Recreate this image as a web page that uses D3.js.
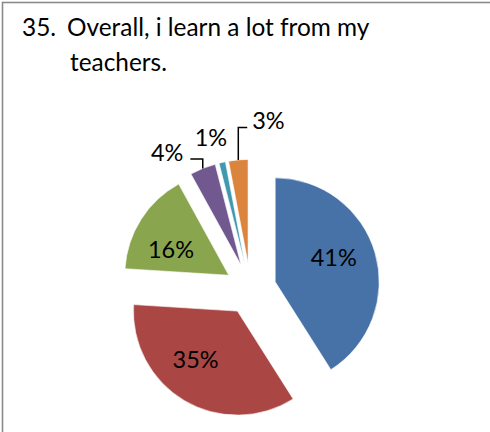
<!DOCTYPE html>
<html><head><meta charset="utf-8">
<script src="https://cdn.jsdelivr.net/npm/d3@7"></script>
<style>html,body{margin:0;padding:0;background:#fff}</style>
</head><body>
<svg id="chart" width="490" height="432"></svg>
<script>
// ---- data ----
const categories = ["Strongly agree", "Agree", "Neutral", "Disagree", "Strongly disagree", "No answer"];
const values = [41, 35, 16, 4, 1, 3];
const valueLabels = ["41%", "35%", "16%", "4%", "1%", "3%"];
const colors = ["#4672A7", "#AA4644", "#89A54E", "#71588F", "#4198AF", "#DB843D"];
const titleNumber = "35.";
const titleLines = ["Overall, i learn a lot from my", "teachers."];

// ---- layout ----
const svg = d3.select("#chart");
const font = "Lato, 'Open Sans', sans-serif";
const cx = 250.5, cy = 289, R = 104, explode = 25.7;

svg.append("rect").attr("x", 0).attr("y", 0).attr("width", 490).attr("height", 432).attr("fill", "#fff");
svg.append("rect").attr("x", 2.5).attr("y", 2.5).attr("width", 700).attr("height", 700)
  .attr("fill", "none").attr("stroke", "#8a8a8a").attr("stroke-width", 1.6);

// title
const t = svg.append("g").attr("font-family", font).attr("font-size", 24.4).attr("fill", "#000");
t.append("text").attr("x", 22).attr("y", 36).text(titleNumber);
t.append("text").attr("x", 67).attr("y", 36).text(titleLines[0]);
t.append("text").attr("x", 70).attr("y", 71).text(titleLines[1]);

const pie = d3.pie().sort(null).value(d => d);
const arcs = pie(values);
const arc = d3.arc().innerRadius(0).outerRadius(R);

const g = svg.append("g").attr("transform", `translate(${cx},${cy})`);
const off = d => {
  const a = (d.startAngle + d.endAngle) / 2;
  return [Math.sin(a) * explode, -Math.cos(a) * explode];
};

g.selectAll("path.slice").data(arcs).enter().append("path")
  .attr("class", "slice")
  .attr("transform", d => { const o = off(d); return `translate(${o[0]},${o[1]})`; })
  .attr("d", arc)
  .attr("fill", (d, i) => colors[i])
  .attr("stroke", "#fff").attr("stroke-width", 0.6);

const labelSize = 23.5;
// inside labels (large slices)
const insideShift = [-0.08, 0.13, -0.10];
const insideR = 89;
arcs.forEach((d, i) => {
  if (values[i] < 10) return;
  const a = (d.startAngle + d.endAngle) / 2 + insideShift[i];
  g.append("text")
    .attr("x", Math.sin(a) * insideR)
    .attr("y", -Math.cos(a) * insideR)
    .attr("dy", "0.36em")
    .attr("text-anchor", "middle")
    .attr("font-family", font).attr("font-size", labelSize).attr("fill", "#000")
    .text(valueLabels[i]);
});

// outside labels (small slices): polar placement around the pie
const outsidePolar = {3: [-31.4, 160], 4: [-14.6, 157], 5: [6.1, 169]};
const leader = {3: "right", 5: "left"};
arcs.forEach((d, i) => {
  if (!outsidePolar[i]) return;
  const [deg, rr] = outsidePolar[i];
  const a = deg * Math.PI / 180;
  const lx = Math.sin(a) * rr, ly = -Math.cos(a) * rr;
  const txt = g.append("text")
    .attr("x", lx).attr("y", ly).attr("dy", "0.36em")
    .attr("text-anchor", "middle")
    .attr("font-family", font).attr("font-size", labelSize).attr("fill", "#000")
    .text(valueLabels[i]);
  if (leader[i]) {
    const w = txt.node().getComputedTextLength();
    const o = off(d);
    const m = (d.startAngle + d.endAngle) / 2;
    const ex = o[0] + Math.sin(m) * R, ey = o[1] - Math.cos(m) * R;
    const sx = leader[i] === "right" ? lx + w / 2 + 7 : lx - w / 2 - 5;
    const sy = ly + 6.5;
    g.append("path")
      .attr("d", `M${sx},${sy}H${ex}V${ey}`)
      .attr("fill", "none").attr("stroke", "#000").attr("stroke-width", 1.5);
  }
});
</script>
</body></html>
